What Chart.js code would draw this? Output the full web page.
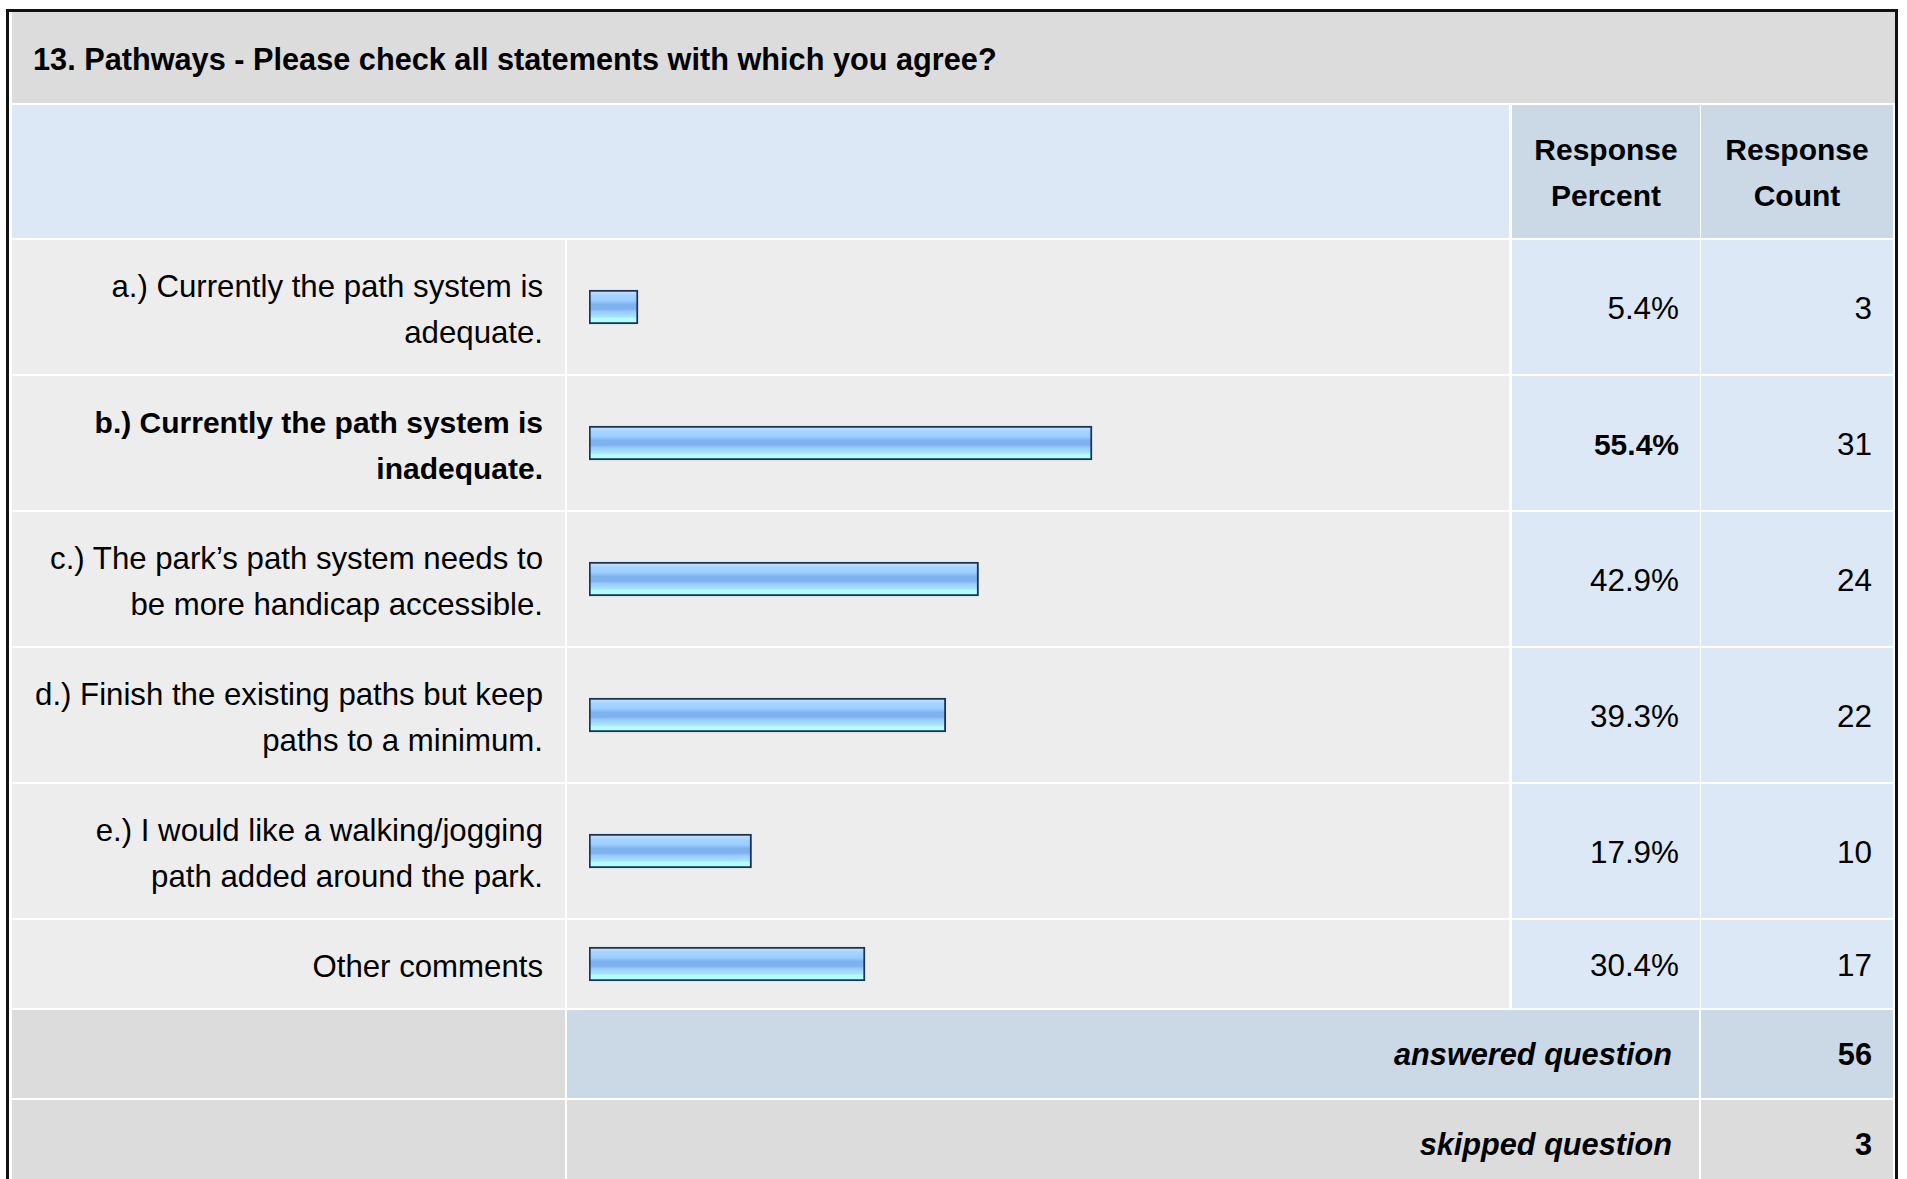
<!DOCTYPE html>
<html>
<head>
<meta charset="utf-8">
<script src="https://cdn.jsdelivr.net/npm/chart.js@4.4.0/dist/chart.umd.min.js"></script>
<style>
  html, body { margin: 0; padding: 0; background: #fff; }
  body { width: 1907px; height: 1179px; overflow: hidden; position: relative;
         font-family: "Liberation Sans", Arial, Helvetica, sans-serif; color: #000; }
  #frame { position: absolute; left: 6px; top: 9px; width: 1886px; height: 1200px;
           border: 3px solid #111; background: #fff; }
  .cell { position: absolute; box-sizing: border-box; }
  .title { background: #dcdcdc; font-weight: bold; font-size: 30.7px; padding-left: 21px;
           padding-top: 4px; display: flex; align-items: center; }
  .hdr { background: #dce8f5; }
  .hdr2 { background: #cbd8e6; font-weight: bold; font-size: 30px; line-height: 46px;
          padding-top: 2px; display: flex; align-items: center; justify-content: center; text-align: center; }
  .lab { background: #ededed; font-size: 31.2px; line-height: 46px; text-align: right;
         padding-right: 22px; padding-top: 5px; display: flex; flex-direction: column; justify-content: center; }
  .lab div { white-space: nowrap; }
  .bar { background: #ededed; }
  .num { background: #dce8f5; font-size: 31.4px; text-align: right; padding-right: 21px;
         padding-top: 3px; display: flex; align-items: center; justify-content: flex-end; }
  .sum { background: #cbd8e6; font-size: 30.7px; font-weight: bold; text-align: right;
         padding-top: 2px; display: flex; align-items: center; justify-content: flex-end; }
  .gray { background: #dcdcdc; }
  .b { font-weight: bold; font-size: 30px; }
</style>
</head>
<body>
<div id="frame"></div>
<script>
// question text and table headings
const title = "13. Pathways - Please check all statements with which you agree?";
const headPercent = ["Response", "Percent"];
const headCount = ["Response", "Count"];

// answer choices (one entry per line of the label)
const categories = [
  ["a.) Currently the path system is", "adequate."],
  ["b.) Currently the path system is", "inadequate."],
  ["c.) The park\u2019s path system needs to", "be more handicap accessible."],
  ["d.) Finish the existing paths but keep", "paths to a minimum."],
  ["e.) I would like a walking/jogging", "path added around the park."],
  ["Other comments"]
];
const percents = [5.4, 55.4, 42.9, 39.3, 17.9, 30.4];
const counts = [3, 31, 24, 22, 10, 17];
const answeredLabel = "answered question";
const skippedLabel = "skipped question";
const answered = 56;
const skipped = 3;

// column edges relative to the frame's inner box
const colX = [3, 558, 1503, 1692];
const colW = [553, 942, 188, 192];
const frame = document.getElementById("frame");

function cell(cls, x, y, w, h, html) {
  const d = document.createElement("div");
  d.className = "cell " + cls;
  d.style.left = x + "px"; d.style.top = y + "px";
  d.style.width = w + "px"; d.style.height = h + "px";
  if (html !== undefined) d.innerHTML = html;
  frame.appendChild(d);
  return d;
}

cell("title", 3, 0, 1883, 91, title);
cell("hdr", 3, 93, 1497, 133);
cell("hdr2", colX[2], 93, colW[2], 133, headPercent.join("<br>"));
cell("hdr2", colX[3], 93, colW[3], 133, headCount.join("<br>"));

const maxIdx = percents.indexOf(Math.max(...percents));
let y = 228;
categories.forEach((lines, i) => {
  const h = lines.length > 1 ? 134 : 88;
  const bold = i === maxIdx ? " b" : "";
  cell("lab" + bold, colX[0], y, colW[0], h, lines.map(l => "<div>" + l + "</div>").join(""));
  const bc = cell("bar", colX[1], y, colW[1], h);
  cell("num" + bold, colX[2], y, colW[2], h, percents[i].toFixed(1) + "%");
  cell("num", colX[3], y, colW[3], h, String(counts[i]));

  const cv = document.createElement("canvas");
  cv.width = colW[1]; cv.height = h;
  cv.style.width = colW[1] + "px"; cv.style.height = h + "px";
  cv.style.display = "block";
  bc.appendChild(cv);
  new Chart(cv.getContext("2d"), {
    type: "bar",
    data: {
      labels: [lines.join(" ")],
      datasets: [{
        data: [percents[i]],
        barThickness: 34,
        borderWidth: 2,
        borderSkipped: false,
        borderColor: "#1c3456",
        backgroundColor: (ctx) => {
          const area = ctx.chart.chartArea;
          if (!area) return "#99ccff";
          const mid = (area.top + area.bottom) / 2;
          const g = ctx.chart.ctx.createLinearGradient(0, mid - 17, 0, mid + 17);
          g.addColorStop(0, "#d2eaff");
          g.addColorStop(0.14, "#a8d5ff");
          g.addColorStop(0.32, "#99ccff");
          g.addColorStop(0.42, "#7eb1f0");
          g.addColorStop(0.56, "#7eb1f0");
          g.addColorStop(0.64, "#99ccff");
          g.addColorStop(0.78, "#a6e2ff");
          g.addColorStop(0.84, "#b3ffff");
          g.addColorStop(1, "#b3ffff");
          return g;
        }
      }]
    },
    options: {
      indexAxis: "y",
      responsive: false,
      animation: false,
      devicePixelRatio: 1,
      layout: { padding: { left: 22, right: 12, top: 0, bottom: 0 } },
      plugins: { legend: { display: false }, tooltip: { enabled: false } },
      scales: {
        x: { display: false, min: 0, max: 100 },
        y: { display: false }
      }
    }
  });
  y += h + 2;
});

// totals rows
cell("gray", colX[0], y, colW[0], 88);
cell("sum", colX[1], y, colW[1] + 2 + colW[2], 88, "<i>" + answeredLabel + "</i>").style.paddingRight = "27px";
cell("sum", colX[3], y, colW[3], 88, String(answered)).style.paddingRight = "21px";
y += 90;
cell("gray", colX[0], y, colW[0], 88);
cell("sum gray", colX[1], y, colW[1] + 2 + colW[2], 88, "<i>" + skippedLabel + "</i>").style.paddingRight = "27px";
cell("sum gray", colX[3], y, colW[3], 88, String(skipped)).style.paddingRight = "21px";
</script>
</body>
</html>
